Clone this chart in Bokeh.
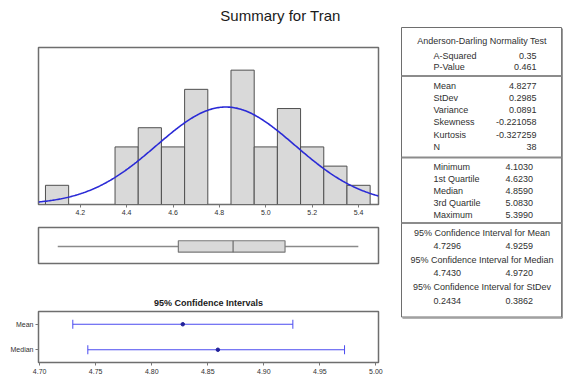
import numpy as np
from bokeh.plotting import figure
from bokeh.layouts import column, row
from bokeh.models import (Range1d, FixedTicker, PrintfTickFormatter, FactorRange,
                          ColumnDataSource)
from bokeh.core.properties import value
from bokeh.embed import file_html
from bokeh.resources import INLINE

FONT = "Liberation Sans"

# ---------------- data ----------------
title_text = "Summary for Tran"

bin_centers = [4.1, 4.2, 4.3, 4.4, 4.5, 4.6, 4.7, 4.8, 4.9, 5.0, 5.1, 5.2, 5.3, 5.4]
bin_counts = [1, 0, 0, 3, 4, 3, 6, 0, 7, 3, 5, 3, 2, 1]
bin_width = 0.1
hist_ticks = [4.2, 4.4, 4.6, 4.8, 5.0, 5.2, 5.4]

mean_value = 4.8277
stdev_value = 0.2985
n_obs = 38

box_min = 4.1030
box_q1 = 4.6230
box_median = 4.8590
box_q3 = 5.0830
box_max = 5.3990

ci_title = "95% Confidence Intervals"
ci_labels = ["Mean", "Median"]
ci_lower = [4.7296, 4.7430]
ci_upper = [4.9259, 4.9720]
ci_center = [4.8277, 4.8590]
ci_ticks = [4.70, 4.75, 4.80, 4.85, 4.90, 4.95, 5.00]

ad_header = "Anderson-Darling Normality Test"
ad_labels = ["A-Squared", "P-Value"]
ad_values = ["0.35", "0.461"]
moment_labels = ["Mean", "StDev", "Variance", "Skewness", "Kurtosis", "N"]
moment_values = ["4.8277", "0.2985", "0.0891", "-0.221058", "-0.327259", "38"]
quart_labels = ["Minimum", "1st Quartile", "Median", "3rd Quartile", "Maximum"]
quart_values = ["4.1030", "4.6230", "4.8590", "5.0830", "5.3990"]
ci_headers = ["95% Confidence Interval for Mean",
              "95% Confidence Interval for Median",
              "95% Confidence Interval for StDev"]
ci_table_low = ["4.7296", "4.7430", "0.2434"]
ci_table_high = ["4.9259", "4.9720", "0.3862"]

# ---------------- styles ----------------
FRAME_COLOR = "#6e6e6e"
BAR_FILL = "#d9d9d9"
BAR_LINE = "#4f4f4f"
CURVE = "#2a2ad6"
CI_BLUE = "#4b4bf0"
TXT = "#303030"

LEFT_W = 394
FULL_W = 563


def common(p):
    p.grid.visible = False
    p.background_fill_color = "white"
    p.border_fill_color = "white"


# ---------------- header ----------------
HEAD_H = 26
head = figure(width=FULL_W, height=HEAD_H, x_range=Range1d(0, FULL_W),
              y_range=Range1d(HEAD_H, 0), x_axis_location=None, y_axis_location=None,
              min_border=0, outline_line_color=None, toolbar_location=None,
              output_backend="svg")
common(head)
head.text(x=[280], y=[15], text=[title_text], text_align="center", text_baseline="middle",
          text_font=value(FONT), text_font_size="15px", text_color="#1a1a1a")

# ---------------- histogram ----------------
xr = Range1d(4.02, 5.486)
hist = figure(width=LEFT_W, height=196, x_range=xr, y_range=Range1d(0, 8.18),
              y_axis_location=None, toolbar_location=None, output_backend="svg",
              min_border_left=38, min_border_right=16, min_border_top=21,
              min_border_bottom=18, outline_line_color=FRAME_COLOR,
              outline_line_width=1.5)
common(hist)
nz = [i for i, c in enumerate(bin_counts) if c > 0]
hsrc = ColumnDataSource(dict(x=[bin_centers[i] for i in nz], top=[bin_counts[i] for i in nz]))
hist.vbar(x="x", top="top", width=bin_width, source=hsrc, fill_color=BAR_FILL,
          line_color=BAR_LINE, line_width=1)
xs = np.linspace(xr.start, xr.end, 300)
ys = n_obs * bin_width * np.exp(-0.5 * ((xs - mean_value) / stdev_value) ** 2) / (
    stdev_value * np.sqrt(2 * np.pi))
hist.line(xs, ys, line_color=CURVE, line_width=1.6)
ax = hist.xaxis[0]
ax.ticker = FixedTicker(ticks=hist_ticks)
ax.formatter = PrintfTickFormatter(format="%.1f")
ax.axis_line_color = None
ax.major_tick_out = 3
ax.major_tick_in = 0
ax.minor_tick_line_color = None
ax.major_tick_line_color = "#777777"
ax.major_label_standoff = 2
ax.major_label_text_font = FONT
ax.major_label_text_font_size = "7px"
ax.major_label_text_color = TXT

# ---------------- boxplot ----------------
box = figure(width=LEFT_W, height=46, x_range=xr, y_range=Range1d(0.05, 1.0),
             x_axis_location=None, y_axis_location=None, toolbar_location=None,
             output_backend="svg", min_border_left=38, min_border_right=16,
             min_border_top=5, min_border_bottom=5, outline_line_color=FRAME_COLOR,
             outline_line_width=1.5)
common(box)
box.segment(x0=[box_min, box_q3], y0=[0.5, 0.5], x1=[box_q1, box_max], y1=[0.5, 0.5],
            line_color="#8a8a8a", line_width=1.5)
box.hbar(y=[0.5], left=[box_q1], right=[box_q3], height=0.3, fill_color=BAR_FILL,
         line_color="#7a7a7a", line_width=1.2)
box.segment(x0=[box_median], y0=[0.35], x1=[box_median], y1=[0.65],
            line_color="#6a6a6a", line_width=1.2)

# ---------------- confidence intervals ----------------
ci = figure(width=LEFT_W, height=112, x_range=Range1d(4.699, 5.0023),
            y_range=FactorRange(factors=list(reversed(ci_labels))),
            toolbar_location=None, output_backend="svg", min_border_left=38,
            min_border_right=16, min_border_top=43, min_border_bottom=18,
            outline_line_color=FRAME_COLOR, outline_line_width=1.5)
common(ci)
ci.title.text = ci_title
ci.title.align = "center"
ci.title.text_font = FONT
ci.title.text_font_size = "9px"
ci.title.text_font_style = "bold"
ci.title.text_color = "#1a1a1a"
ci.title.standoff = 8
ci.segment(x0=ci_lower, y0=ci_labels, x1=ci_upper, y1=ci_labels,
           line_color=CI_BLUE, line_width=1)
ci.scatter(x=ci_lower + ci_upper, y=ci_labels + ci_labels, marker="dash",
           angle=np.pi / 2, size=9, line_color=CI_BLUE, line_width=1)
ci.scatter(x=ci_center, y=ci_labels, marker="circle", size=3.5,
           fill_color="#20209a", line_color="#20209a")
cx = ci.xaxis[0]
cx.ticker = FixedTicker(ticks=ci_ticks)
cx.formatter = PrintfTickFormatter(format="%.2f")
cy = ci.yaxis[0]
for a in (cx, cy):
    a.axis_line_color = None
    a.major_tick_out = 3
    a.major_tick_in = 0
    a.minor_tick_line_color = None
    a.major_tick_line_color = "#777777"
    a.major_label_text_font = FONT
    a.major_label_text_font_size = "7px"
    a.major_label_text_color = TXT
cx.major_label_standoff = 3
cy.major_label_standoff = 2

# ---------------- statistics table ----------------
TW, TH = FULL_W - LEFT_W, 296
tab = figure(width=TW, height=TH, x_range=Range1d(0, TW), y_range=Range1d(TH, 0),
             x_axis_location=None, y_axis_location=None, min_border=0,
             outline_line_color=None, toolbar_location=None, output_backend="svg")
common(tab)
BOX_L, BOX_R, BOX_T, BOX_B = 7, 167, 1, 290.5
tab.quad(left=[BOX_L], right=[BOX_R], top=[BOX_T], bottom=[BOX_B], fill_color="white",
         line_color=FRAME_COLOR, line_width=1)
tab.segment(x0=[BOX_R + 1, BOX_L + 1], y0=[BOX_T + 1, BOX_B + 1],
            x1=[BOX_R + 1, BOX_R + 1], y1=[BOX_B + 1, BOX_B + 1],
            line_color="#9a9a9a", line_width=1.5)

LAB_X = 39
VAL_R = 142
VAL_L = 111
MID_X = 87.5

tx, ty, tt, ta = [], [], [], []


def put(x, y, s, align):
    tx.append(x); ty.append(y); tt.append(s); ta.append(align)


dividers = []
put(MID_X, 14, ad_header, "center")
for i, (lab, val) in enumerate(zip(ad_labels, ad_values)):
    put(LAB_X, 29 + 11 * i, lab, "left")
    put(VAL_R, 29 + 11 * i, val, "right")
dividers.append(49.5)
for i, (lab, val) in enumerate(zip(moment_labels, moment_values)):
    put(LAB_X, 59 + 12.3 * i, lab, "left")
    put(VAL_R, 59 + 12.3 * i, val, "right")
dividers.append(131)
for i, (lab, val) in enumerate(zip(quart_labels, quart_values)):
    put(LAB_X, 140.5 + 12 * i, lab, "left")
    put(VAL_L, 140.5 + 12 * i, val, "left")
dividers.append(196.5)
for i, (hdr, lo, hi) in enumerate(zip(ci_headers, ci_table_low, ci_table_high)):
    yh = 206 + 27.2 * i
    put(MID_X, yh, hdr, "center")
    put(LAB_X, yh + 13.6, lo, "left")
    put(VAL_L, yh + 13.6, hi, "left")

tab.segment(x0=[BOX_L] * len(dividers), y0=dividers, x1=[BOX_R] * len(dividers),
            y1=dividers, line_color="#8c8c8c", line_width=2)
tsrc = ColumnDataSource(dict(x=tx, y=ty, text=tt, align=ta))
tab.text(x="x", y="y", text="text", text_align="align", source=tsrc,
         text_baseline="middle", text_font=value(FONT), text_font_size="9px",
         text_color=TXT)

layout = column(head, row(column(hist, box, ci), tab))

with open("out.html", "w") as f:
    f.write(file_html(layout, INLINE, title=title_text))
